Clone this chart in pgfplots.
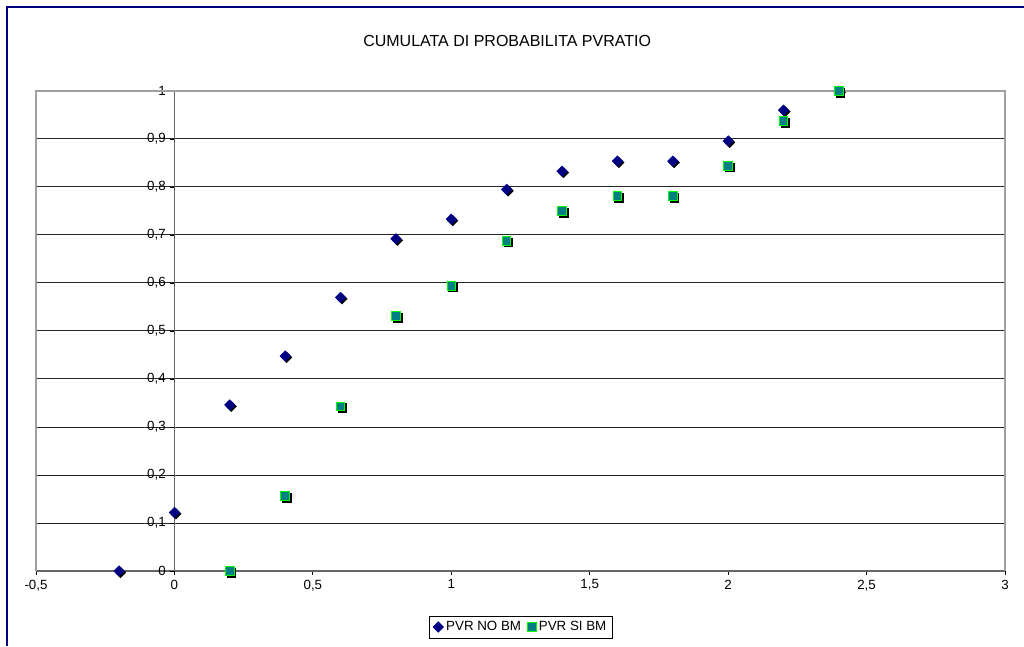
\documentclass[border=0pt]{standalone}
\usepackage{fontspec}
\setmainfont{Liberation Sans}
\usepackage{pgfplots}
\pgfplotsset{compat=1.18}
\definecolor{navyb}{RGB}{0,0,128}
\definecolor{tealf}{RGB}{0,128,128}
\definecolor{greenb}{RGB}{0,255,0}
\definecolor{axgray}{RGB}{100,100,100}
\definecolor{bordgray}{RGB}{160,160,160}
\pgfplotstableread{
x y
-0.2 0
0 0.122
0.2 0.346
0.4 0.448
0.6 0.570
0.8 0.692
1.0 0.733
1.2 0.795
1.4 0.833
1.6 0.854
1.8 0.854
2.0 0.896
2.2 0.960
2.4 1.0
}\nobm
\pgfplotstableread{
x y
0.2 0
0.4 0.156
0.6 0.343
0.8 0.531
1.0 0.594
1.2 0.688
1.4 0.750
1.6 0.781
1.8 0.781
2.0 0.844
2.2 0.9375
2.4 1.0
}\sibm
\begin{document}
\begin{tikzpicture}[x=1pt,y=1pt]
\useasboundingbox (-27,-56.25) rectangle (741,428.25);
\fill[white] (-27,-56.25) rectangle (741,428.25);
\draw[navyb, line width=1.5pt] (-22,-56.25) -- (-22,423.2) -- (741,423.2);
\node[anchor=west, font=\fontsize{12}{14}\selectfont, inner sep=0pt] at (245.25,397.5) {CUMULATA DI PROBABILITA PVRATIO};
\begin{axis}[
  at={(0,0)}, anchor=south west,
  width=726.75pt, height=360pt, scale only axis,
  xmin=-0.5, xmax=3, ymin=0, ymax=1,
  axis x line=middle, axis y line=middle,
  axis line style={axgray, line width=0.9pt, -},
  xtick={-0.5,0,0.5,1,1.5,2,2.5,3},
  ytick={0,0.1,0.2,0.3,0.4,0.5,0.6,0.7,0.8,0.9,1},
  extra x ticks={0},
  extra y ticks={0},
  extra tick style={grid=none},
  tick align=outside,
  major tick length=3pt,
  tick style={black, line width=0.6pt},
  ymajorgrids,
  grid style={black!85, line width=0.75pt},
  tick label style={font=\fontsize{10}{12}\selectfont, text=black},
  /pgf/number format/assume math mode=true,
  /pgf/number format/use comma,
  /pgf/number format/fixed,
  clip=false,
  legend columns=2,
  legend style={at={(0.5005,-0.1167)}, anchor=center, draw=black, line width=0.5pt,
    font=\fontsize{10}{12}\selectfont, inner xsep=2.5pt, inner ysep=2pt,
    /tikz/every even column/.append style={column sep=3pt}},
  legend cell align=left,
]
\draw[bordgray, line width=0.9pt] (axis cs:-0.5,0) |- (axis cs:3,1) -- (axis cs:3,0);
\addplot[only marks, forget plot, mark=square*, mark size=2.8pt,
  mark options={xshift=1.1pt, yshift=-1.1pt, rotate=45, fill=black, draw=black, line width=0.3pt}]
  table[x=x,y=y] {\nobm};
\addplot[only marks, mark=square*, mark size=2.8pt,
  mark options={rotate=45, fill=navyb, draw=navyb!80!blue, line width=0.3pt}]
  table[x=x,y=y] {\nobm};
\addlegendentry{PVR NO BM}
\addplot[only marks, forget plot, mark=square*, mark size=3.2pt,
  mark options={xshift=1.3pt, yshift=-1.3pt, fill=black, draw=black, line width=0.6pt}]
  table[x=x,y=y] {\sibm};
\addplot[only marks, mark=square*, mark size=3.2pt,
  mark options={fill=tealf, draw=greenb, line width=0.75pt}]
  table[x=x,y=y] {\sibm};
\addlegendentry{PVR SI BM}
\end{axis}
\end{tikzpicture}
\end{document}
